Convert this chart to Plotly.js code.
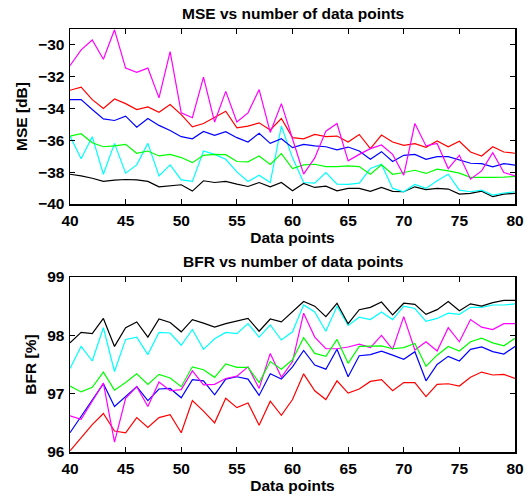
<!DOCTYPE html>
<html>
<head>
<meta charset="utf-8">
<script src="https://cdn.plot.ly/plotly-3.0.1.min.js"></script>
<style>html,body{margin:0;padding:0;background:#fff;}#chart{width:530px;height:498px;}</style>
</head>
<body>
<div id="chart"></div>
<script>
const dataPoints = [40,41,42,43,44,45,46,47,48,49,50,51,52,53,54,55,56,57,58,59,60,61,62,63,64,65,66,67,68,69,70,71,72,73,74,75,76,77,78,79,80];

// MSE [dB]
const mseMagenta = [-31.31,-30.31,-29.69,-30.9,-29.05,-31.46,-31.73,-31.46,-33.33,-30.42,-34.27,-34.58,-32.02,-34.85,-32.92,-34.85,-34.27,-32.81,-35.5,-33.69,-35.9,-38.12,-37.1,-35.42,-34.94,-37.29,-36.88,-36.52,-36.29,-36.88,-38.19,-34.94,-36.35,-36.19,-37.77,-36.94,-38.44,-37.92,-36.77,-38.02,-38.23];
const mseRed = [-32.85,-32.65,-33.44,-34.0,-33.4,-33.69,-34.06,-33.9,-34.23,-33.75,-34.38,-35.15,-34.94,-34.58,-34.17,-35.21,-35.1,-34.9,-35.35,-34.63,-35.83,-35.9,-35.63,-35.77,-35.73,-36.1,-35.63,-36.52,-35.67,-36.1,-36.31,-36.21,-36.44,-36.04,-36.4,-36.06,-36.73,-36.98,-36.4,-36.73,-36.81];
const mseBlue = [-33.44,-33.44,-34.06,-34.65,-34.75,-34.48,-35.17,-34.63,-35.06,-35.38,-35.77,-35.9,-35.44,-35.69,-35.46,-35.83,-36.1,-35.56,-36.19,-35.9,-36.46,-36.25,-36.35,-36.4,-36.6,-36.42,-36.67,-37.19,-36.71,-37.33,-36.94,-36.88,-37.19,-37.02,-37.02,-37.23,-37.44,-37.46,-37.67,-37.46,-37.56];
const mseGreen = [-35.73,-35.58,-36.15,-36.4,-36.35,-36.25,-36.81,-36.67,-36.98,-36.88,-37.08,-37.4,-36.94,-36.88,-36.9,-37.33,-37.35,-36.98,-37.52,-36.83,-37.77,-37.54,-37.5,-37.65,-37.65,-37.6,-37.65,-38.13,-37.54,-38.13,-38.02,-37.88,-38.08,-37.81,-37.92,-38.06,-38.33,-38.35,-38.33,-38.31,-38.27];
const mseCyan = [-35.73,-37.15,-35.77,-38.13,-36.19,-38.06,-37.54,-36.19,-38.23,-37.54,-38.48,-38.58,-36.67,-36.88,-37.19,-37.98,-38.58,-38.19,-38.65,-35.1,-37.1,-38.65,-38.69,-38.02,-38.75,-38.77,-38.69,-37.77,-37.5,-39.02,-39.23,-38.77,-39.02,-38.54,-38.13,-39.13,-39.23,-39.13,-39.44,-39.31,-39.23];
const mseBlack = [-38.13,-38.23,-38.38,-38.58,-38.5,-38.46,-38.48,-38.58,-38.92,-38.85,-38.79,-39.19,-38.54,-38.65,-38.58,-38.75,-38.9,-38.65,-38.92,-38.65,-39.17,-38.71,-38.96,-38.88,-39.17,-39.02,-39.02,-39.21,-38.96,-39.21,-39.23,-38.92,-39.1,-39.02,-39.06,-39.38,-39.33,-39.19,-39.54,-39.38,-39.33];

// BFR [%]
const bfrBlack = [97.87,98.05,98.03,98.29,97.81,98.13,98.23,97.97,98.28,98.22,98.06,98.27,98.21,98.14,98.2,98.24,98.29,98.07,98.28,98.23,98.4,98.58,98.5,98.32,98.55,98.2,98.44,98.48,98.57,98.35,98.55,98.53,98.36,98.44,98.58,98.42,98.54,98.5,98.56,98.6,98.6];
const bfrCyan = [97.43,97.81,97.56,98.13,97.38,97.93,97.97,97.67,98.05,98.04,97.83,98.1,97.76,97.94,98.05,98.03,98.2,97.97,98.18,97.92,98.06,98.52,98.4,98.07,98.5,98.17,98.31,98.27,98.4,98.27,98.5,98.46,98.24,98.29,98.38,98.36,98.48,98.48,98.52,98.52,98.54];
const bfrGreen = [97.13,97.03,97.11,97.37,97.06,97.19,97.34,97.16,97.33,97.27,97.12,97.46,97.41,97.28,97.51,97.45,97.45,97.19,97.55,97.42,97.58,97.96,97.69,97.64,97.93,97.52,97.81,97.82,97.82,97.77,97.79,97.86,97.47,97.66,97.81,97.73,97.89,97.95,97.87,97.82,97.95];
const bfrMagenta = [96.62,96.56,96.87,97.18,96.17,96.92,97.12,96.78,97.2,97.05,97.07,97.39,97.15,97.16,97.26,97.3,97.46,97.09,97.69,97.28,97.55,98.38,97.97,97.77,97.77,97.8,97.85,97.79,98.0,97.76,98.32,97.75,97.89,97.73,98.13,97.89,98.27,98.14,98.1,98.2,98.2];
const bfrBlue = [96.33,96.61,96.88,97.17,96.78,96.95,97.12,96.88,97.08,97.09,96.93,97.24,97.22,96.98,97.25,97.29,97.25,96.97,97.34,97.25,97.46,97.74,97.49,97.42,97.76,97.29,97.65,97.67,97.73,97.66,97.59,97.72,97.22,97.5,97.64,97.56,97.76,97.8,97.72,97.68,97.81];
const bfrRed = [96.02,96.24,96.47,96.66,96.36,96.33,96.59,96.42,96.59,96.64,96.33,96.88,96.7,96.5,96.92,96.76,96.84,96.46,96.87,96.63,96.9,97.34,97.05,96.9,97.22,97.01,97.08,97.21,97.24,97.05,97.19,97.19,96.95,97.16,97.17,97.13,97.28,97.37,97.32,97.33,97.26];

const mseTicks = [-40,-38,-36,-34,-32,-30];
const bfrTicks = [96,97,98,99];
const xTicks = [40,45,50,55,60,65,70,75,80];

const W = 530, H = 498;
const fam = 'Liberation Sans, Arial, Helvetica, sans-serif';
const boldFont = {family: fam, size: 15.5, color: '#000', weight: 'bold'};

function tr(y, color, xa, ya) {
  return {x: dataPoints, y: y, type: 'scatter', mode: 'lines', xaxis: xa, yaxis: ya,
    line: {color: color, width: 1.2}, hoverinfo: 'skip', showlegend: false};
}

const traces = [
  tr(mseBlack, '#000000', 'x', 'y'),
  tr(mseCyan, '#00ffff', 'x', 'y'),
  tr(mseGreen, '#00ff00', 'x', 'y'),
  tr(mseBlue, '#0000ff', 'x', 'y'),
  tr(mseRed, '#ff0000', 'x', 'y'),
  tr(mseMagenta, '#ff00ff', 'x', 'y'),
  tr(bfrRed, '#ff0000', 'x2', 'y2'),
  tr(bfrBlue, '#0000ff', 'x2', 'y2'),
  tr(bfrMagenta, '#ff00ff', 'x2', 'y2'),
  tr(bfrGreen, '#00ff00', 'x2', 'y2'),
  tr(bfrCyan, '#00ffff', 'x2', 'y2'),
  tr(bfrBlack, '#000000', 'x2', 'y2')
];

const xl = 70, xr = 515;
function ax(extra) {
  return Object.assign({
    showline: true, linecolor: '#000', linewidth: 1.5, mirror: 'ticks',
    ticks: 'inside', ticklen: 5, tickwidth: 1, tickcolor: '#000',
    showgrid: false, zeroline: false, tickfont: boldFont, automargin: false, fixedrange: true
  }, extra);
}

const layout = {
  width: W, height: H,
  margin: {l: 0, r: 0, t: 0, b: 0},
  paper_bgcolor: '#fff', plot_bgcolor: '#fff',
  showlegend: false,
  xaxis: ax({domain: [xl / W, xr / W], range: [40, 80], tickvals: xTicks, anchor: 'y', ticklabelstandoff: 2,
    title: {text: 'Data points', font: boldFont, standoff: 3}}),
  yaxis: ax({domain: [(H - 204) / H, (H - 29) / H], range: [-40, -29], tickvals: mseTicks, anchor: 'x', ticklabelstandoff: 1,
    title: {text: 'MSE [dB]', font: boldFont, standoff: 6}}),
  xaxis2: ax({domain: [xl / W, xr / W], range: [40, 80], tickvals: xTicks, anchor: 'y2', ticklabelstandoff: 2,
    title: {text: 'Data points', font: boldFont, standoff: 3}}),
  yaxis2: ax({domain: [(H - 452) / H, (H - 277) / H], range: [96, 99], tickvals: bfrTicks, anchor: 'x2', ticklabelstandoff: 1,
    title: {text: 'BFR [%]', font: boldFont, standoff: 6}}),
  annotations: [
    {text: 'MSE vs number of data points', xref: 'paper', yref: 'paper', x: (xl + xr) / 2 / W, y: 1 - 13.5 / H,
      xanchor: 'center', yanchor: 'middle', showarrow: false, font: boldFont},
    {text: 'BFR vs number of data points', xref: 'paper', yref: 'paper', x: (xl + xr) / 2 / W, y: 1 - 261.5 / H,
      xanchor: 'center', yanchor: 'middle', showarrow: false, font: boldFont}
  ]
};

Plotly.newPlot('chart', traces, layout, {displayModeBar: false, staticPlot: true});
</script>
</body>
</html>
